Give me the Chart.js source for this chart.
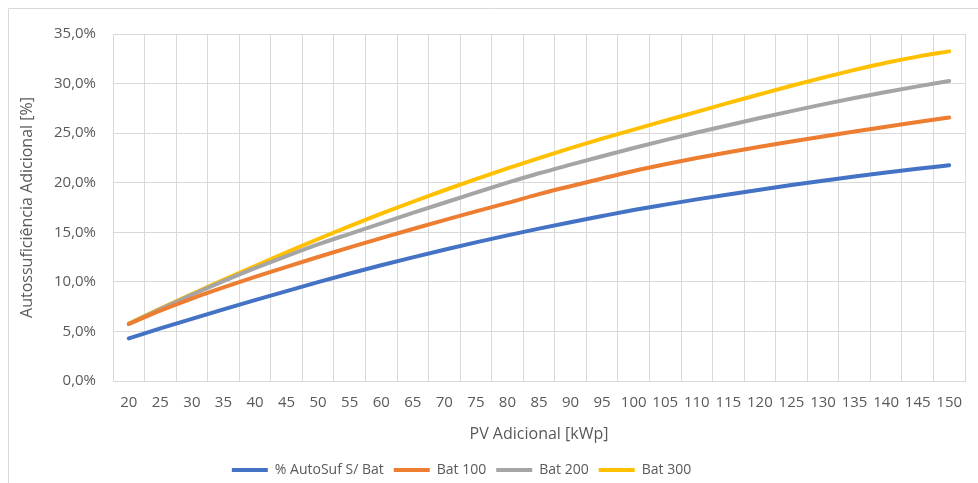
<!DOCTYPE html>
<html>
<head>
<meta charset="utf-8">
<script src="https://cdn.jsdelivr.net/npm/chart.js@4.4.1/dist/chart.umd.min.js"></script>
<style>
  html, body { margin: 0; padding: 0; background: #ffffff; }
  #wrap { position: relative; width: 978px; height: 483px; }
  canvas { display: block; }
</style>
</head>
<body>
<div id="wrap"><canvas id="c" width="978" height="483"></canvas></div>
<script>
const categories = ['20','25','30','35','40','45','50','55','60','65','70','75','80','85','90','95','100','105','110','115','120','125','130','135','140','145','150'];
const semBateria = [4.3, 5.3, 6.27, 7.22, 8.15, 9.07, 9.97, 10.84, 11.67, 12.47, 13.24, 13.98, 14.69, 15.37, 16.02, 16.64, 17.24, 17.79, 18.32, 18.82, 19.30, 19.76, 20.20, 20.62, 21.02, 21.40, 21.76];
const bat100 = [5.75, 7.1, 8.32, 9.44, 10.5, 11.52, 12.51, 13.47, 14.41, 15.33, 16.23, 17.11, 17.96, 18.85, 19.65, 20.43, 21.18, 21.86, 22.5, 23.08, 23.62, 24.15, 24.67, 25.17, 25.65, 26.12, 26.58];
const bat200 = [5.75, 7.25, 8.7, 10.08, 11.38, 12.6, 13.78, 14.85, 15.9, 16.95, 17.98, 19.0, 20.0, 20.95, 21.82, 22.67, 23.5, 24.3, 25.06, 25.8, 26.52, 27.22, 27.9, 28.55, 29.15, 29.72, 30.25];
const bat300 = [5.8, 7.3, 8.77, 10.2, 11.6, 12.97, 14.32, 15.62, 16.88, 18.08, 19.24, 20.36, 21.44, 22.48, 23.48, 24.44, 25.36, 26.26, 27.15, 28.05, 28.92, 29.78, 30.6, 31.38, 32.1, 32.72, 33.25];
const seriesNames = ['% AutoSuf S/ Bat', 'Bat 100', 'Bat 200', 'Bat 300'];
const seriesColors = ['#4472C4', '#ED7D31', '#A5A5A5', '#FFC000'];
const yTitle = 'Autossuficiência Adicional [%]';
const xTitle = 'PV Adicional [kWp]';

const FONT = "'Open Sans', 'Liberation Sans', sans-serif";
const TXT = '#595959';

const borderPlugin = {
  id: 'frame',
  beforeDraw(chart) {
    const ctx = chart.ctx;
    ctx.save();
    ctx.strokeStyle = '#D9D9D9';
    ctx.lineWidth = 1;
    ctx.beginPath();
    ctx.moveTo(8.5, 483);
    ctx.lineTo(8.5, 8.5);
    ctx.lineTo(978, 8.5);
    ctx.stroke();
    ctx.restore();
  }
};

const legendShift = {
  id: 'legendShift',
  afterLayout(chart) {
    if (chart.legend) { chart.legend.left -= 21; chart.legend.right -= 21; }
  }
};

function mk(i, data) {
  return {
    label: seriesNames[i],
    data: data,
    borderColor: seriesColors[i],
    backgroundColor: seriesColors[i],
    borderWidth: 4,
    borderCapStyle: 'round',
    pointRadius: 0,
    pointHoverRadius: 0,
    cubicInterpolationMode: 'monotone',
    fill: false
  };
}

new Chart(document.getElementById('c'), {
  type: 'line',
  data: {
    labels: categories,
    datasets: [mk(0, semBateria), mk(1, bat100), mk(2, bat200), mk(3, bat300)]
  },
  options: {
    responsive: false,
    animation: false,
    devicePixelRatio: 1,
    layout: { padding: { top: 34, right: 13, left: 0, bottom: -4 } },
    plugins: {
      tooltip: { enabled: false },
      legend: {
        position: 'bottom',
        labels: {
          color: TXT,
          font: { family: FONT, size: 14 },
          usePointStyle: true,
          pointStyle: 'line',
          pointStyleWidth: 36,
          boxHeight: 14,
          padding: 10
        }
      }
    },
    scales: {
      x: {
        type: 'category',
        offset: true,
        grid: { offset: true, color: '#D9D9D9', lineWidth: 1, drawTicks: false },
        border: { color: '#D9D9D9' },
        ticks: {
          autoSkip: false, maxRotation: 0, minRotation: 0,
          color: TXT, font: { family: FONT, size: 15 }, padding: 13
        },
        title: {
          display: true, text: xTitle, color: TXT,
          font: { family: FONT, size: 16 }, padding: { top: 0, bottom: 9 }
        },
        afterFit(scale) { scale.height = 72; }
      },
      y: {
        min: 0, max: 35,
        grid: { color: '#D9D9D9', lineWidth: 1, drawTicks: false },
        border: { display: false },
        ticks: {
          stepSize: 5,
          color: TXT, font: { family: FONT, size: 15 }, padding: 17,
          callback: (v) => v.toFixed(1).replace('.', ',') + '%'
        },
        title: {
          display: true, text: yTitle, color: TXT,
          font: { family: FONT, size: 16 }, padding: { top: 18, bottom: 0 }
        },
        afterFit(scale) { scale.width = 113; }
      }
    }
  },
  plugins: [borderPlugin, legendShift]
});
</script>
</body>
</html>
